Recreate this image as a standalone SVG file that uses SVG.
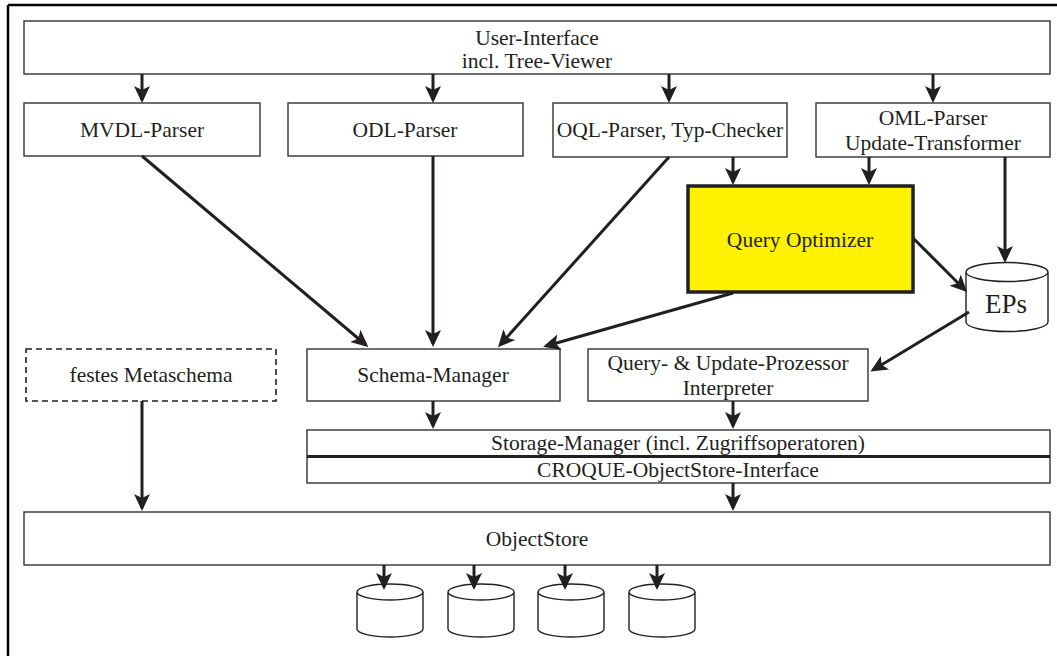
<svg xmlns="http://www.w3.org/2000/svg" width="1057" height="656" viewBox="0 0 1057 656">
<style>
.box{fill:#fff;stroke:#333;stroke-width:1.4}
.dash{fill:#fff;stroke:#231f20;stroke-width:1.6;stroke-dasharray:6 4}
.qo{fill:#fff200;stroke:#231f20;stroke-width:3.5}
.t{font-family:"Liberation Serif","Times New Roman",serif;font-size:21.5px;fill:#231f20;text-anchor:middle}
.big{font-size:27px}
.cyl{fill:#fff;stroke:#231f20;stroke-width:1.4}
.c{stroke:#231f20;stroke-width:3;fill:none;marker-end:url(#ah)}
</style>
<defs>
<marker id="ah" markerUnits="userSpaceOnUse" markerWidth="22" markerHeight="22" viewBox="0 -11 22 22" refX="14" refY="0" orient="auto">
<path d="M17,0 L0,-8 L4,0 L0,8 Z" fill="#231f20"/>
</marker>
</defs>
<rect width="1057" height="656" fill="#fff"/>
<g id="frame" stroke="#000" stroke-width="2.5" fill="none">
<line x1="8" y1="5" x2="1057" y2="5"/>
<line x1="8" y1="5" x2="8" y2="656"/>
</g>
<g id="ui"><rect class="box" x="24" y="21" width="1026" height="53"/>
<text class="t" x="537" y="45">User-Interface</text><text class="t" x="537" y="68">incl. Tree-Viewer</text></g>
<g id="mvdl"><rect class="box" x="24" y="103" width="236" height="53"/><text class="t" x="142" y="137">MVDL-Parser</text></g>
<g id="odl"><rect class="box" x="288" y="103" width="235" height="53"/><text class="t" x="405" y="137">ODL-Parser</text></g>
<g id="oql"><rect class="box" x="553" y="103" width="234" height="54"/><text class="t" x="670" y="137">OQL-Parser, Typ-Checker</text></g>
<g id="oml"><rect class="box" x="816" y="103" width="234" height="54"/><text class="t" x="933" y="125">OML-Parser</text><text class="t" x="933" y="150">Update-Transformer</text></g>
<g id="qo"><rect class="qo" x="688" y="186" width="225" height="106"/><text class="t" x="800" y="247">Query Optimizer</text></g>
<g id="eps"><path class="cyl" d="M966,272 L966,322 A41,9.5 0 0 0 1048,322 L1048,272 A41,9.5 0 0 0 966,272 A41,9.5 0 0 0 1048,272"/><text class="t big" x="1006" y="313">EPs</text></g>
<g id="meta"><rect class="dash" x="26" y="349" width="250" height="52"/><text class="t" x="151" y="382">festes Metaschema</text></g>
<g id="sm"><rect class="box" x="307" y="349" width="253" height="52"/><text class="t" x="433" y="382">Schema-Manager</text></g>
<g id="qup"><rect class="box" x="588" y="349" width="280" height="52"/><text class="t" x="728" y="370">Query- &amp; Update-Prozessor</text><text class="t" x="728" y="395">Interpreter</text></g>
<g id="storage"><rect class="box" x="307" y="430" width="743" height="26"/><text class="t" x="678" y="450">Storage-Manager (incl. Zugriffsoperatoren)</text></g>
<g id="croque"><rect class="box" x="307" y="457" width="743" height="26"/><text class="t" x="678" y="477">CROQUE-ObjectStore-Interface</text>
<line x1="307" y1="456.5" x2="1050" y2="456.5" stroke="#231f20" stroke-width="3"/></g>
<g id="objectstore"><rect class="box" x="24" y="512" width="1026" height="53"/><text class="t" x="537" y="546">ObjectStore</text></g>
<g id="disks">
<path class="cyl" d="M357,592 L357,629 A33,8 0 0 0 423,629 L423,592 A33,8 0 0 0 357,592 A33,8 0 0 0 423,592"/>
<path class="cyl" d="M448,592 L448,629 A33,8 0 0 0 514,629 L514,592 A33,8 0 0 0 448,592 A33,8 0 0 0 514,592"/>
<path class="cyl" d="M538,592 L538,629 A33,8 0 0 0 604,629 L604,592 A33,8 0 0 0 538,592 A33,8 0 0 0 604,592"/>
<path class="cyl" d="M629,592 L629,629 A33,8 0 0 0 695,629 L695,592 A33,8 0 0 0 629,592 A33,8 0 0 0 695,592"/>
</g>
<g id="connectors">
<line class="c" x1="142" y1="74" x2="142" y2="100"/>
<line class="c" x1="433" y1="74" x2="433" y2="100"/>
<line class="c" x1="669" y1="74" x2="669" y2="100"/>
<line class="c" x1="933" y1="74" x2="933" y2="100"/>
<line class="c" x1="142" y1="156" x2="366" y2="345"/>
<line class="c" x1="433" y1="156" x2="433" y2="344"/>
<line class="c" x1="669" y1="157" x2="500" y2="345"/>
<line class="c" x1="733" y1="293" x2="546" y2="346"/>
<line class="c" x1="733" y1="157" x2="733" y2="182"/>
<line class="c" x1="869" y1="157" x2="869" y2="182"/>
<line class="c" x1="1005" y1="157" x2="1005" y2="260"/>
<line class="c" x1="913" y1="238" x2="965" y2="290"/>
<line class="c" x1="969" y1="312" x2="873" y2="370"/>
<line class="c" x1="433" y1="401" x2="433" y2="426"/>
<line class="c" x1="733" y1="401" x2="733" y2="426"/>
<line class="c" x1="733" y1="483" x2="733" y2="508"/>
<line class="c" x1="142" y1="401" x2="142" y2="508"/>
<line class="c" x1="384" y1="565" x2="384" y2="587"/>
<line class="c" x1="474" y1="565" x2="474" y2="587"/>
<line class="c" x1="565" y1="565" x2="565" y2="587"/>
<line class="c" x1="657" y1="565" x2="657" y2="587"/>
</g>
</svg>
